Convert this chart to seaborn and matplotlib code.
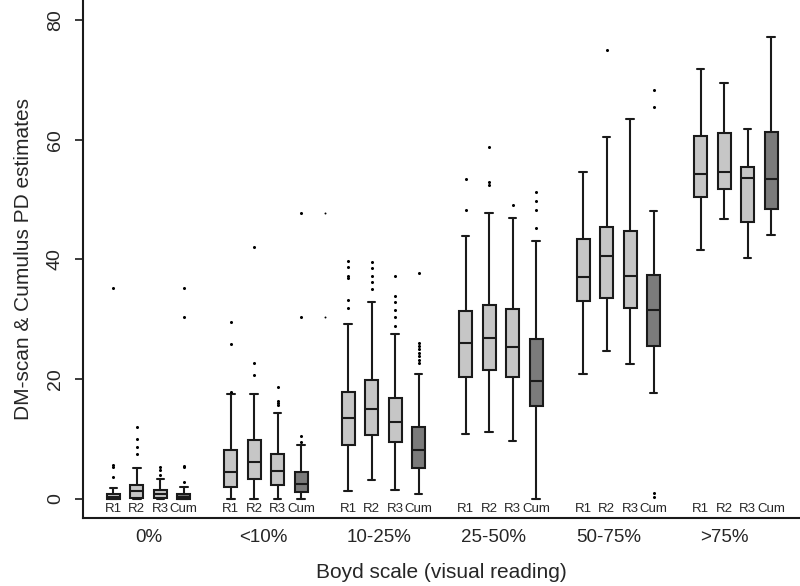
import numpy as np
import matplotlib
matplotlib.use("Agg")
import matplotlib.pyplot as plt
import seaborn as sns

sns.set_theme(style="white")
plt.rcParams['font.family'] = ['Liberation Sans', 'DejaVu Sans']

# ---------------------------
# Data (DM-scan & Cumulus PD estimates, %)
# ---------------------------
groups = ["0%", "<10%", "10-25%", "25-50%", "50-75%", ">75%"]
readers = ["R1", "R2", "R3", "Cum"]

# one row per Boyd group, one column per reader
whislo = [[0.0, 0.0, 0.0, 0.0],
          [0.0, 0.0, 0.0, 0.0],
          [1.3, 3.1, 1.5, 0.8],
          [10.8, 11.2, 9.7, 0.0],
          [20.8, 24.7, 22.5, 17.7],
          [41.5, 46.7, 40.3, 44.1]]
q1 = [[0.0, 0.1, 0.1, 0.0],
      [2.0, 3.3, 2.3, 1.1],
      [9.0, 10.7, 9.4, 5.1],
      [20.4, 21.5, 20.4, 15.5],
      [33.1, 33.6, 31.9, 25.5],
      [50.4, 51.7, 46.2, 48.4]]
med = [[0.3, 1.2, 0.7, 0.3],
       [4.4, 6.1, 4.6, 2.4],
       [13.4, 14.9, 12.8, 8.1],
       [26.0, 26.8, 25.3, 19.7],
       [37.0, 40.6, 37.2, 31.6],
       [54.3, 54.7, 53.6, 53.4]]
q3 = [[0.8, 2.2, 1.4, 0.8],
      [8.2, 9.8, 7.4, 4.4],
      [17.9, 19.9, 16.9, 12.0],
      [31.3, 32.3, 31.7, 26.7],
      [43.5, 45.4, 44.8, 37.4],
      [60.7, 61.1, 55.4, 61.4]]
whishi = [[1.7, 5.1, 3.3, 1.9],
          [17.5, 17.5, 14.3, 9.0],
          [29.2, 32.8, 27.6, 20.8],
          [43.9, 47.8, 46.9, 43.0],
          [54.6, 60.4, 63.5, 48.1],
          [71.8, 69.5, 61.9, 77.2]]
fliers = [[[3.6, 5.2, 5.6, 35.3], [7.4, 8.6, 10.0, 12.0], [4.0, 4.7, 5.2], [2.8, 5.2, 5.5, 30.3, 35.3]],
          [[17.9, 25.9, 29.5], [20.7, 22.7, 42.0], [15.6, 16.0, 16.4, 18.7], [9.4, 10.4, 30.3, 47.7]],
          [[31.8, 33.2, 36.9, 37.3, 38.7, 39.8], [35.1, 36.2, 37.2, 38.5, 39.5],
           [28.9, 30.4, 31.5, 32.9, 33.9, 37.2], [22.6, 23.2, 23.8, 24.4, 25.0, 25.6, 26.0, 37.8]],
          [[48.3, 53.4], [52.5, 53.0, 58.8], [49.1], [45.2, 48.2, 49.8, 51.3]],
          [[], [75.0], [], [0.3, 1.0, 65.5, 68.4]],
          [[], [], [], []]]
# stray points drawn in the empty slot after the <10% group
stray_group = 1
stray_values = [30.3, 47.7]

# ---------------------------
# Boxplots: 5 slots per group, 4 used
# ---------------------------
fig = plt.figure(figsize=(8, 5.86), dpi=100)
ax = fig.add_axes([0.104, 0.116, 0.896, 0.884])

light = "#c6c6c6"
dark = "#7b7b7b"

stats, positions, colors = [], [], []
for g in range(len(groups)):
    for r in range(len(readers)):
        stats.append(dict(whislo=whislo[g][r], q1=q1[g][r], med=med[g][r],
                          q3=q3[g][r], whishi=whishi[g][r], fliers=fliers[g][r]))
        positions.append(g * 5 + r + 1)
        colors.append(dark if readers[r] == "Cum" else light)

bp = ax.bxp(stats, positions=positions, widths=0.55, capwidths=0.32,
            patch_artist=True, showfliers=True,
            boxprops=dict(edgecolor="#1a1a1a", linewidth=1.5),
            medianprops=dict(color="#1a1a1a", linewidth=1.5),
            whiskerprops=dict(color="#1a1a1a", linewidth=1.5),
            capprops=dict(color="#1a1a1a", linewidth=1.5),
            flierprops=dict(marker="o", markersize=1.2, markerfacecolor="black",
                            markeredgecolor="black", linestyle="none"))
for patch, c in zip(bp["boxes"], colors):
    patch.set_facecolor(c)

sns.scatterplot(x=[stray_group * 5 + 5] * len(stray_values), y=stray_values,
                ax=ax, color="black", s=2, linewidth=0, legend=False)

# reader labels under each box
for p, r in zip(positions, readers * len(groups)):
    ax.text(p, -1.7, r, ha="center", va="center", fontsize=9.5)

ax.set_xlim(-0.28, 30.23)
ax.set_ylim(-3.26, 83.4)
ax.set_xticks([2.5 + 4.9 * i for i in range(len(groups))])
ax.set_xticklabels(groups, fontsize=13.5)
ax.set_yticks([0, 20, 40, 60, 80])
ax.set_yticklabels(["0", "20", "40", "60", "80"], fontsize=14, rotation=90, va="center")
ax.tick_params(axis="x", length=0, pad=8)
ax.tick_params(axis="y", length=6, width=1.2, pad=8, color="#1a1a1a", left=True)
ax.set_xlabel("Boyd scale (visual reading)", fontsize=15, labelpad=12)
ax.set_ylabel("DM-scan & Cumulus PD estimates", fontsize=15, labelpad=10)

sns.despine(ax=ax, top=True, right=True)
for s in ["left", "bottom"]:
    ax.spines[s].set_color("#1a1a1a")
    ax.spines[s].set_linewidth(1.5)

fig.savefig("out.png", dpi=100)
